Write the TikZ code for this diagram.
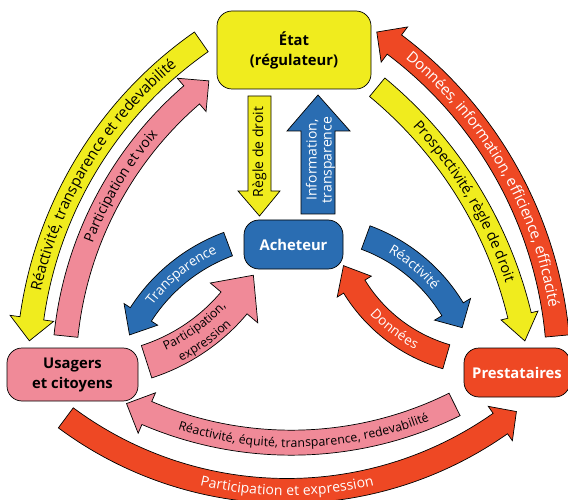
\documentclass[tikz,border=0pt]{standalone}
\usepackage{fontspec}
\setmainfont{Open Sans}
\usetikzlibrary{decorations.text}
\definecolor{cyel}{HTML}{F0EC1E}
\definecolor{cpink}{HTML}{F08A98}
\definecolor{cblue}{HTML}{2A6DB2}
\definecolor{cred}{HTML}{EE4824}
\newcommand\fA{\fontsize{14}{16}\selectfont}
\newcommand\fO{\fontsize{15}{17}\selectfont}
\newcommand\fI{\fontsize{14.5}{17}\selectfont}
\newcommand\fB{\fontsize{12.3}{14}\selectfont}
\newcommand\fC{\fontsize{13.5}{16}\selectfont}
\newcommand\fS{\fontsize{14}{15}\selectfont}
\newcommand\boxfont{\fontsize{14.8}{20}\selectfont\bfseries}
% curved block arrow: cx cy R w h tail base tip fill
\newcommand\carrow[9]{%
 \draw[arrowshape,fill=#9] ([shift={(#1,#2)}]#6:{#3+#4}) arc[start angle=#6, end angle=#7, radius={#3+#4}]
   -- ([shift={(#1,#2)}]#7:{#3+#5}) -- ([shift={(#1,#2)}]#8:#3) -- ([shift={(#1,#2)}]#7:{#3-#5})
   -- ([shift={(#1,#2)}]#7:{#3-#4}) arc[start angle=#7, end angle=#6, radius={#3-#4}] -- cycle;}
% text on arc: [raise] cx cy R a1 a2 format text
\newcommand\arctext[8][-4.5pt]{%
 \path[decorate, decoration={text along path, text align=center, raise=#1, text={|#7|#8}}]
   ([shift={(#2,#3)}]#5:#4) arc[start angle=#5, end angle=#6, radius=#4];}
\begin{document}
\begin{tikzpicture}[x=1pt,y=1pt,
  arrowshape/.style={draw=black, line width=0.7pt, line join=miter},
  box/.style={draw=black, line width=0.7pt, rounded corners=15pt, align=center, font=\boxfont, inner sep=0pt}]
\useasboundingbox (0,0) rectangle (568,499);

% boxes
\node[box, fill=cyel, minimum width=154pt, minimum height=78pt] (etat) at (294,449) {État\\(régulateur)};
\node[box, fill=cblue, text=white, minimum width=99pt, minimum height=49pt] (ach) at (293.5,254.5) {Acheteur};
\node[box, fill=cpink, minimum width=131pt, minimum height=53pt] (usa) at (72.5,124.5) {Usagers\\et citoyens};
\node[box, fill=cred, text=white, minimum width=106pt, minimum height=49pt] (pre) at (517,126.5) {Prestataires};

% straight arrows
\draw[arrowshape, fill=cyel] (248,403) -- (271,403) -- (271,308) -- (280,308) -- (259.5,283) -- (238,308) -- (248,308) -- cycle;
\node[rotate=90, font=\fS] (regle) at (259.5,347) {Règle de droit};
\draw[arrowshape, fill=cblue] (301,285) -- (335,285) -- (335,368) -- (350,368) -- (318,404) -- (287,368) -- (301,368) -- cycle;
\node[rotate=90, font=\fS, text=white, align=center] (info) at (320.5,339) {Information,\\transparence};

% left pair
\carrow{433}{125}{405}{12}{22}{124.9}{172.1}{175.3}{cyel}
\arctext{433}{125}{405}{173}{124.9}{\fO}{Réactivité, transparence et redevabilité}
\carrow{433}{125}{369}{12}{22}{174.1}{130.85}{127.4}{cpink}
\arctext{433}{125}{369}{170}{128}{\fA}{Participation et voix}

% right pair
\carrow{147}{125}{412}{12}{22}{5.3}{53.1}{56.1}{cred}
\arctext{147}{125}{412}{54}{6}{\fO\color{white}}{Données, information, efficience, efficacité}
\carrow{106.3}{84.3}{425}{12}{19}{50.4}{13.5}{10}{cyel}
\arctext{106.3}{84.3}{425}{49}{12.5}{\fI}{Prospectivité, règle de droit}

% bottom pair
\carrow{287}{379}{371}{12.5}{21}{233.4}{305.1}{308.2}{cred}
\arctext{287}{379}{371}{240}{300}{\fA\color{white}}{Participation et expression}
\carrow{291.4}{423.3}{367}{12.5}{22}{296.4}{246.8}{243.3}{cpink}
\arctext{291.4}{423.3}{367}{248}{296}{\fB}{Réactivité, équité, transparence, redevabilité}

% left loop
\carrow{289.8}{89}{177}{12.5}{20}{110.4}{147.3}{154.9}{cblue}
\arctext{289.8}{89}{177}{147.3}{110.4}{\fC\color{white}}{Transparence}
\carrow{88.5}{318.2}{190}{17}{31}{287.8}{320}{330.2}{cpink}
\arctext[0pt]{88.5}{318.2}{186.5}{290}{322}{\fB}{Participation,}
\arctext[0pt]{88.5}{318.2}{203}{290}{322}{\fB}{expression}

% right loop
\carrow{307}{101.9}{170}{12.5}{21}{69.8}{31.1}{24.1}{cblue}
\arctext{307}{101.9}{170}{69.8}{31.1}{\fC\color{white}}{Réactivité}
\carrow{490.7}{296}{160}{12.5}{20}{253.9}{211.5}{203.05}{cred}
\arctext{490.7}{296}{160}{211.5}{253.9}{\fC\color{white}}{Données}
\end{tikzpicture}
\end{document}
